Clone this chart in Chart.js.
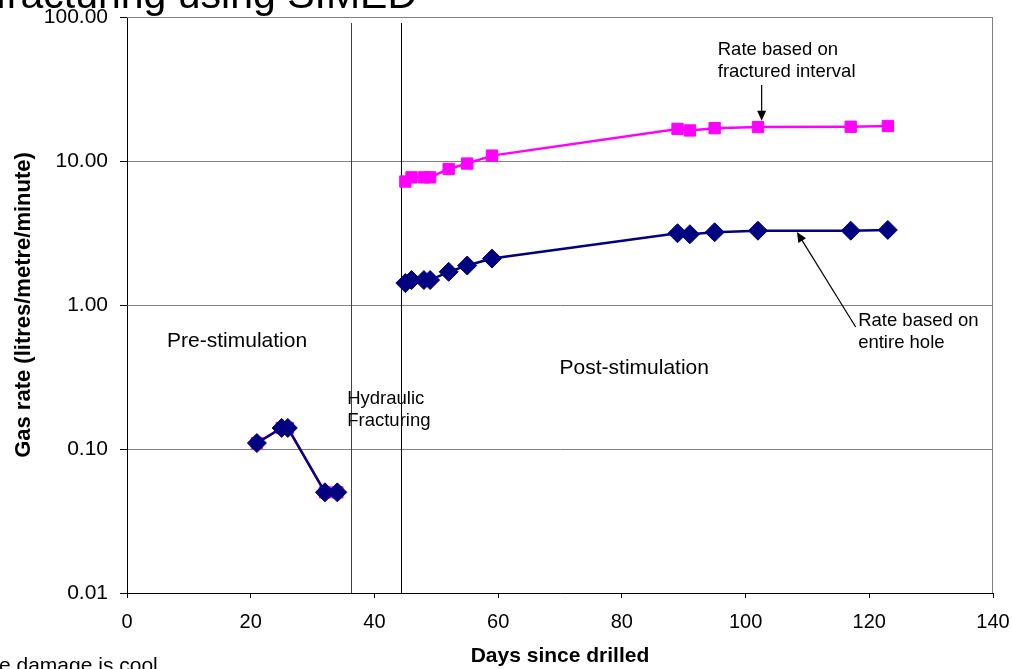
<!DOCTYPE html>
<html>
<head>
<meta charset="utf-8">
<script src="https://cdn.jsdelivr.net/npm/chart.js@4.4.1/dist/chart.umd.min.js"></script>
<style>
  html, body { margin: 0; padding: 0; background: #fff; }
  #wrap { width: 1012px; height: 669px; position: relative; }
</style>
</head>
<body>
<div id="wrap"><canvas id="gasChart"></canvas></div>
<script>
// Pre-stimulation readings (both series sit on top of each other)
const preDays = [21, 25, 26, 32, 34];
const preRate = [0.11, 0.14, 0.14, 0.05, 0.05];

// Post-stimulation readings
const postDays = [45, 46, 48, 49, 52, 55, 59, 89, 91, 95, 102, 117, 123];
const fracturedRate = [7.2, 7.7, 7.7, 7.7, 8.8, 9.6, 10.9, 16.7, 16.3, 16.9, 17.2, 17.3, 17.5];
const holeRate = [1.42, 1.49, 1.49, 1.49, 1.70, 1.88, 2.10, 3.15, 3.10, 3.20, 3.28, 3.28, 3.32];

const yTicks = [0.01, 0.1, 1, 10, 100];
const xTicks = [0, 20, 40, 60, 80, 100, 120, 140];
const eventLines = [36.2, 44.3]; // hydraulic fracturing window

const PINK = "#FF00FF";
const NAVY = "#000080";
const FONT = "'Liberation Sans', Arial, sans-serif";

function pts(xs, ys) {
  return xs.map((x, i) => ({ x: x, y: ys[i] }));
}

// text notes placed in data units
const notes = [
  { x: 17.8, y: 0.562, lines: ["Pre-stimulation"], size: 21, align: "center" },
  { x: 82.0, y: 0.365, lines: ["Post-stimulation"], size: 21, align: "center" },
  { x: 35.6, y: 0.222, lines: ["Hydraulic", "Fracturing"], size: 18.5, align: "left" },
  { x: 95.5, y: 59, lines: ["Rate based on", "fractured interval"], size: 18.5, align: "left" },
  { x: 118.2, y: 0.774, lines: ["Rate based on", "entire hole"], size: 18.5, align: "left" },
];
const arrows = [
  { from: [102.6, 33.7], to: [102.6, 19] },
  { from: [117.8, 0.703], to: [108.3, 3.21] },
];

const extras = {
  id: "extras",
  beforeDatasetsDraw(chart) {
    const { ctx, chartArea: a, scales: { x } } = chart;
    ctx.save();
    // top / right frame
    ctx.strokeStyle = "#808080";
    ctx.lineWidth = 1;
    ctx.beginPath();
    ctx.moveTo(a.left, a.top + 0.5);
    ctx.lineTo(a.right - 0.5, a.top + 0.5);
    ctx.lineTo(a.right - 0.5, a.bottom);
    ctx.stroke();
    // fracturing lines
    eventLines.forEach((d, i) => {
      const px = Math.round(x.getPixelForValue(d)) + 0.5;
      ctx.strokeStyle = i === 0 ? "#404040" : "#000";
      ctx.beginPath();
      ctx.moveTo(px, a.top + 6);
      ctx.lineTo(px, a.bottom);
      ctx.stroke();
    });
    ctx.restore();
  },
  afterDraw(chart) {
    const { ctx, scales: { x, y } } = chart;
    ctx.save();
    ctx.fillStyle = "#000";
    notes.forEach((n) => {
      ctx.font = n.size + "px " + FONT;
      ctx.textAlign = n.align;
      ctx.textBaseline = "middle";
      const px = x.getPixelForValue(n.x);
      const py = y.getPixelForValue(n.y);
      n.lines.forEach((t, i) => ctx.fillText(t, px, py + i * 22));
    });
    // arrows
    ctx.strokeStyle = "#000";
    ctx.lineWidth = 1.2;
    arrows.forEach((ar) => {
      const x1 = x.getPixelForValue(ar.from[0]), y1 = y.getPixelForValue(ar.from[1]);
      const x2 = x.getPixelForValue(ar.to[0]), y2 = y.getPixelForValue(ar.to[1]);
      const ang = Math.atan2(y2 - y1, x2 - x1);
      ctx.beginPath();
      ctx.moveTo(x1, y1);
      ctx.lineTo(x2 - 6 * Math.cos(ang), y2 - 6 * Math.sin(ang));
      ctx.stroke();
      ctx.beginPath();
      ctx.moveTo(x2, y2);
      ctx.lineTo(x2 - 10 * Math.cos(ang) + 4.5 * Math.sin(ang), y2 - 10 * Math.sin(ang) - 4.5 * Math.cos(ang));
      ctx.lineTo(x2 - 10 * Math.cos(ang) - 4.5 * Math.sin(ang), y2 - 10 * Math.sin(ang) + 4.5 * Math.cos(ang));
      ctx.closePath();
      ctx.fill();
    });
    // cut-off slide title and footnote
    ctx.font = "41px " + FONT;
    ctx.textAlign = "right";
    ctx.textBaseline = "alphabetic";
    ctx.fillText("Hydraulic fracturing using SIMED", 417, 8);
    ctx.font = "21px " + FONT;
    ctx.textAlign = "left";
    ctx.fillText("e damage is cool", -1, 672);
    ctx.restore();
  },
};

function series(data, color, style, radius) {
  return {
    data: data,
    showLine: true,
    borderColor: color,
    backgroundColor: color,
    borderWidth: 2.5,
    pointStyle: style,
    pointRadius: radius,
    pointHoverRadius: radius,
    pointBackgroundColor: color,
    pointBorderColor: color,
    pointBorderWidth: 1,
  };
}

new Chart(document.getElementById("gasChart").getContext("2d"), {
  type: "scatter",
  data: {
    // first dataset is drawn on top, so navy goes first
    datasets: [
      series(pts(preDays, preRate), NAVY, "rectRot", 9.5),
      series(pts(postDays, holeRate), NAVY, "rectRot", 9.5),
      series(pts(preDays, preRate), PINK, "rect", 8),
      series(pts(postDays, fracturedRate), PINK, "rect", 8),
    ],
  },
  options: {
    responsive: true,
    maintainAspectRatio: false,
    animation: false,
    layout: { padding: { top: 17, right: 19, left: 0, bottom: 0 } },
    scales: {
      x: {
        type: "linear",
        min: 0,
        max: 140,
        afterBuildTicks: (axis) => { axis.ticks = xTicks.map((v) => ({ value: v })); },
        afterFit: (scale) => {
          scale.height = 76;
          scale.paddingLeft = 0;
          scale.paddingRight = 0;
        },
        grid: { drawOnChartArea: false, tickLength: 5, tickColor: "#000" },
        border: { color: "#000", width: 1 },
        ticks: { color: "#000", font: { family: FONT, size: 20 }, padding: 12 },
        title: {
          display: true,
          text: "Days since drilled",
          color: "#000",
          font: { family: FONT, size: 21, weight: "bold" },
          padding: { top: 2, bottom: 0 },
        },
      },
      y: {
        type: "logarithmic",
        min: 0.01,
        max: 100,
        afterBuildTicks: (axis) => { axis.ticks = yTicks.map((v) => ({ value: v })); },
        afterFit: (scale) => {
          scale.width = 127;
          scale.paddingTop = 0;
          scale.paddingBottom = 0;
        },
        grid: { color: "#808080", tickLength: 7, tickColor: "#000" },
        border: { color: "#000", width: 1 },
        ticks: {
          color: "#000",
          font: { family: FONT, size: 21 },
          padding: 12,
          callback: (v) => Number(v).toFixed(2),
        },
        title: {
          display: true,
          text: "Gas rate (litres/metre/minute)",
          color: "#000",
          font: { family: FONT, size: 22, weight: "bold" },
          padding: { top: 11, bottom: 0 },
        },
      },
    },
    plugins: {
      legend: { display: false },
      tooltip: { enabled: false },
    },
  },
  plugins: [extras],
});
</script>
</body>
</html>
